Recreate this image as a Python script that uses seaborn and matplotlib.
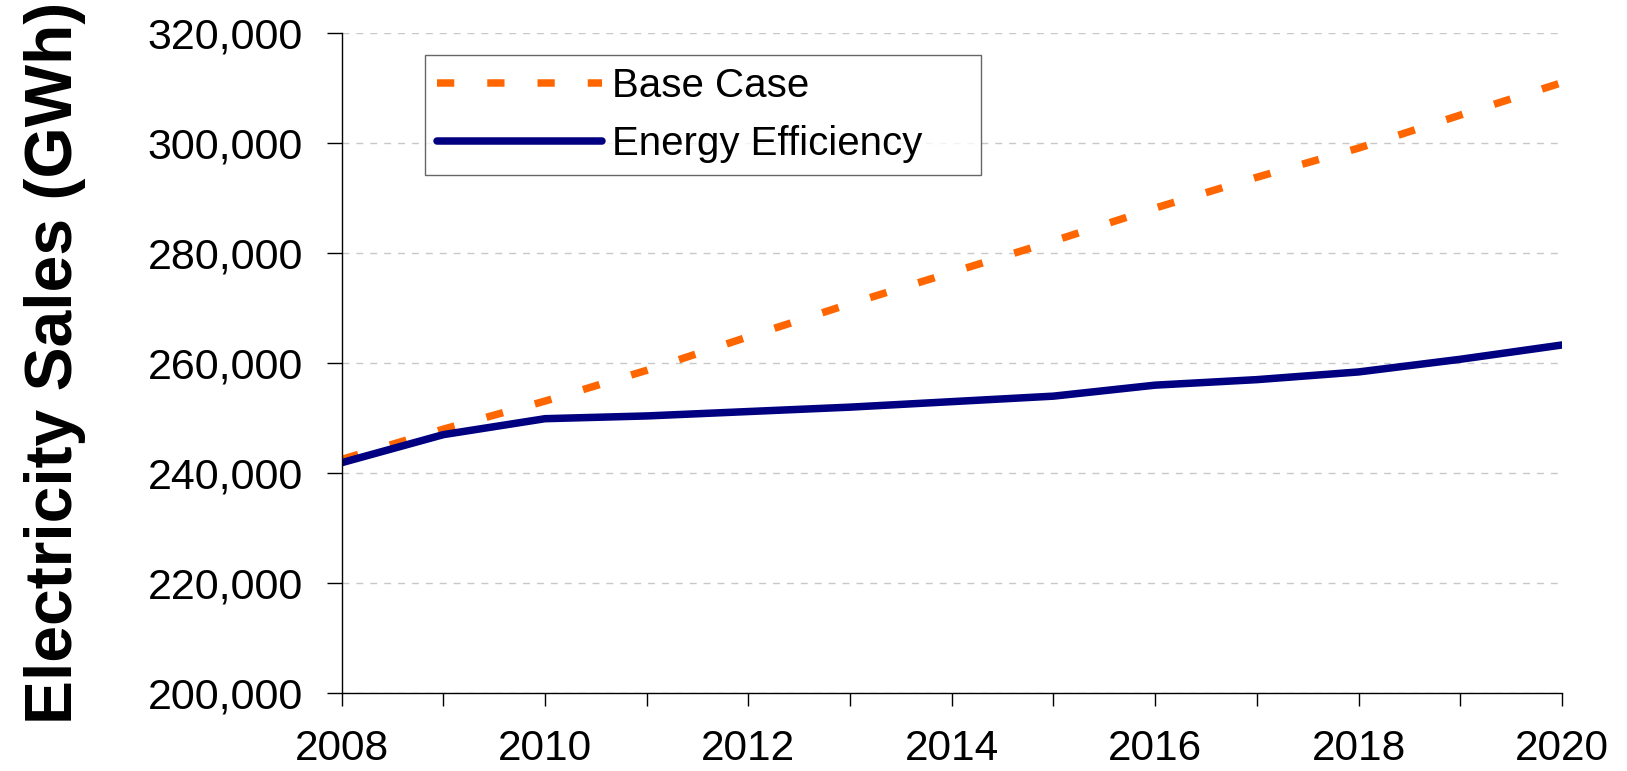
import matplotlib
matplotlib.use("Agg")
import matplotlib.pyplot as plt
import matplotlib.ticker as mticker
import pandas as pd
import seaborn as sns

# ── Data ─────────────────────────────────────────────────────────────────────
years = list(range(2008, 2021))
base_case = [242500, 248000, 253100, 258700, 264800, 270800, 276500,
             282200, 288200, 293800, 299100, 305100, 311000]
energy_eff = [241900, 247000, 249900, 250400, 251200, 252000, 253000,
              254000, 256000, 257000, 258400, 260700, 263300]

ORANGE = "#FF6600"
NAVY = "#000080"

sns.set_style("white")
plt.rcParams["font.family"] = ["Liberation Sans", "DejaVu Sans"]
plt.rcParams["text.color"] = "black"
plt.rcParams["axes.labelcolor"] = "black"
plt.rcParams["xtick.color"] = "black"
plt.rcParams["ytick.color"] = "black"

df = pd.DataFrame({"year": years, "Base Case": base_case, "Energy Efficiency": energy_eff})

fig = plt.figure(figsize=(16.27, 7.71), dpi=100)
ax = fig.add_axes([0.210, 0.101, 0.750, 0.856])

sns.lineplot(data=df, x="year", y="Base Case", ax=ax, color=ORANGE, lw=5.4,
             label="Base Case", dashes=False)
sns.lineplot(data=df, x="year", y="Energy Efficiency", ax=ax, color=NAVY, lw=5.4,
             label="Energy Efficiency", dashes=False)
base_line, eff_line = ax.get_lines()[:2]
base_line.set_dashes((2.3, 4.4))
base_line.set_dash_capstyle("butt")
eff_line.set_solid_capstyle("round")

# ── Axes ─────────────────────────────────────────────────────────────────────
ax.set_xlim(2008, 2020)
ax.set_ylim(200000, 320000)
ax.xaxis.set_major_locator(mticker.MultipleLocator(2))
ax.xaxis.set_minor_locator(mticker.MultipleLocator(1))
ax.yaxis.set_major_locator(mticker.MultipleLocator(20000))
ax.yaxis.set_major_formatter(mticker.FuncFormatter(lambda v, _: f"{v:,.0f}"))

ax.tick_params(axis="y", which="major", direction="out", length=11, width=1,
               colors="black", labelsize=31, pad=17, left=True)
ax.tick_params(axis="x", which="both", direction="out", length=9, width=1,
               colors="black", labelsize=30.5, pad=17, bottom=True)

for side in ("top", "right"):
    ax.spines[side].set_visible(False)
for side in ("left", "bottom"):
    ax.spines[side].set_color("black")
    ax.spines[side].set_linewidth(1)

ax.yaxis.grid(True, color="#c8c8c8", linestyle=(0, (5, 5)), linewidth=1)
ax.xaxis.grid(False)

ax.set_xlabel("")
ax.set_ylabel("Electricity Sales (GWh)", fontsize=47.5, fontweight="bold",
              labelpad=44, color="black")

# ── Legend ───────────────────────────────────────────────────────────────────
leg = ax.legend(loc="upper left", bbox_to_anchor=(0.068, 0.967, 0.456, 0.0),
                mode="expand", fontsize=29, frameon=True, fancybox=False,
                handlelength=4.1, handletextpad=0.25, borderpad=0.3,
                labelspacing=0.5, borderaxespad=0)
leg.get_frame().set_edgecolor("#404040")
leg.get_frame().set_linewidth(1)
for h in leg.get_lines():
    h.set_linewidth(5.4)
leg.get_lines()[0].set_dashes((2.3, 4.4))
for t in leg.get_texts():
    t.set_color("black")

fig.savefig("out.png", dpi=100)
